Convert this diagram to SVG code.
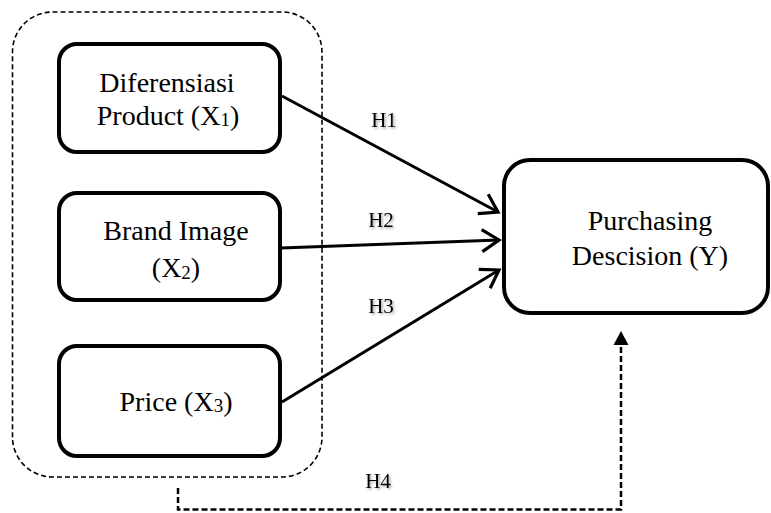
<svg xmlns="http://www.w3.org/2000/svg" width="771" height="513" viewBox="0 0 771 513">
  <style>
    .box { fill: #fff; stroke: #000; stroke-width: 4; }
    .lbl { font-family: "Liberation Serif", "Times New Roman", serif; font-size: 28px; fill: #000; text-anchor: middle; }
    .sub { font-size: 19px; }
    .h { font-family: "Liberation Serif", "Times New Roman", serif; font-size: 21px; fill: #000; text-anchor: middle; filter: url(#shadow); }
    .conn { fill: none; stroke: #000; stroke-width: 3; }
    .dash { fill: none; stroke: #000; stroke-width: 2.5; stroke-dasharray: 6 3; }
    .group { fill: none; stroke: #000; stroke-width: 1.6; stroke-dasharray: 5 3; }
  </style>
  <defs>
    <marker id="open" markerUnits="userSpaceOnUse" markerWidth="24" markerHeight="26" refX="19" refY="12" orient="auto" overflow="visible">
      <path d="M2,1 L19,12 L2,23" fill="none" stroke="#000" stroke-width="3.2" stroke-linecap="butt" stroke-linejoin="miter"/>
    </marker>
    <marker id="tri" markerUnits="userSpaceOnUse" markerWidth="16" markerHeight="16" refX="1" refY="7.5" orient="auto" overflow="visible">
      <path d="M0,0 L14,7.5 L0,15 z" fill="#000"/>
    </marker>
    <filter id="shadow" x="-30%" y="-30%" width="160%" height="160%">
      <feDropShadow dx="1.5" dy="1.5" stdDeviation="1" flood-color="#000" flood-opacity="0.35"/>
    </filter>
  </defs>

  <g id="group-x">
    <rect class="group" x="12.5" y="12" width="309.5" height="465" rx="40" ry="40"/>
  </g>

  <g id="connectors">
    <path class="conn" d="M282,96 L498,212" marker-end="url(#open)"/>
    <path class="conn" d="M281,248 L499,240" marker-end="url(#open)"/>
    <path class="conn" d="M282,402 L499,270" marker-end="url(#open)"/>
    <path class="dash" d="M178,488 V509.5 H621 V344" marker-end="url(#tri)"/>
    <text class="h" x="384" y="127">H1</text>
    <text class="h" x="381" y="227">H2</text>
    <text class="h" x="381" y="313">H3</text>
    <text class="h" x="378" y="488">H4</text>
  </g>

  <g id="x1">
    <rect class="box" x="59" y="44" width="221" height="108" rx="18" ry="18"/>
    <text class="lbl" x="167" y="92">Diferensiasi</text>
    <text class="lbl" x="168" y="125">Product (X<tspan class="sub" dy="1">1</tspan><tspan dy="-1">)</tspan></text>
  </g>

  <g id="x2">
    <rect class="box" x="59" y="193" width="221" height="107" rx="18" ry="18"/>
    <text class="lbl" x="176" y="240">Brand Image</text>
    <text class="lbl" x="176" y="277">(X<tspan class="sub" dy="2">2</tspan><tspan dy="-2">)</tspan></text>
  </g>

  <g id="x3">
    <rect class="box" x="59" y="346" width="221" height="110" rx="18" ry="18"/>
    <text class="lbl" x="176" y="411">Price (X<tspan class="sub" dy="1">3</tspan><tspan dy="-1">)</tspan></text>
  </g>

  <g id="y">
    <rect class="box" x="504" y="160" width="264" height="153" rx="26" ry="26"/>
    <text class="lbl" x="650" y="230">Purchasing</text>
    <text class="lbl" x="650" y="265">Descision (Y)</text>
  </g>
</svg>
